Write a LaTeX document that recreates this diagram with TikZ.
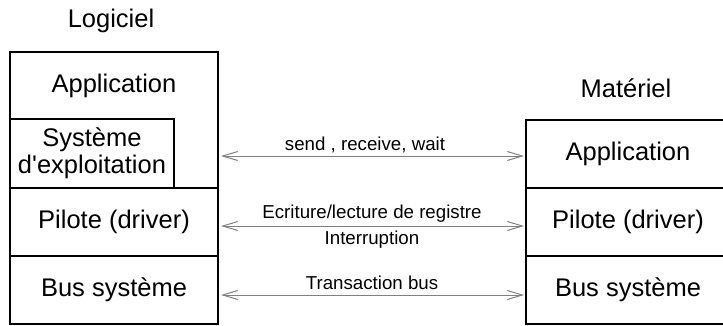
\documentclass[tikz,border=0pt]{standalone}
\usepackage{fontspec}
\setmainfont{Liberation Sans}
\definecolor{linkgray}{RGB}{128, 128, 128}
\usetikzlibrary{arrows.meta, positioning, calc}
\tikzset{
	layer/.style={rectangle, draw=black, line width=1.6pt, outer sep=0pt, inner sep=0pt, align=center, minimum width=208pt, minimum height=68pt, font=\fontsize{25.5}{27}\selectfont},
	sidelayer/.style={layer, minimum width=204pt},
	title/.style={inner sep=0pt, font=\fontsize{25.5}{27}\selectfont},
	link/.style={{Straight Barb[length=15pt, width=9pt]}-{Straight Barb[length=15pt, width=9pt]}, line width=1pt, draw=linkgray, shorten <=3pt, shorten >=2pt},
	linklabel/.style={inner sep=0pt, font=\fontsize{18.7}{20}\selectfont, text=black},
}

\begin{document}
\begin{tikzpicture}[x=1pt, y=-1pt, node distance=0pt]
		\clip (0,0) rectangle (723,325);
		\node[layer, minimum height=136pt, anchor=north west] (appL) at (10,52) {};
		\node[layer, minimum width=164pt, minimum height=69pt, anchor=south west] (osL) at (appL.south west) {Système\\d\textquotesingle exploitation};
		\node[title] (appLtext) at ($(appL.north)!0.25!(appL.south)$) {Application};
		\node[layer, below=of appL] (pilL) {Pilote (driver)};
		\node[layer, below=of pilL] (busL) {Bus système};
		\node[title, above=19pt of appL, xshift=-3pt] (soft) {Logiciel};
		\node[sidelayer, anchor=north west] (appR) at (526,120) {Application};
		\node[sidelayer, below=of appR] (pilR) {Pilote (driver)};
		\node[sidelayer, below=of pilR] (busR) {Bus système};
		\node[title, above=22pt of appR, xshift=-2pt] (hard) {Matériel};
		\draw[link] ([yshift=-2pt]appL.east |- appR.west) -- node[linklabel, above=3pt, xshift=-7pt] {send , receive, wait} ([yshift=-2pt]appR.west);
		\draw[link] ([yshift=-4pt]pilL.east) -- node[linklabel, above=3pt] {Ecriture/lecture de registre} node[linklabel, below=4pt] {Interruption} ([yshift=-4pt]pilR.west);
		\draw[link] ([yshift=-5pt]busL.east) -- node[linklabel, above=5pt] {Transaction bus} ([yshift=-5pt]busR.west);
	\end{tikzpicture}
\end{document}
